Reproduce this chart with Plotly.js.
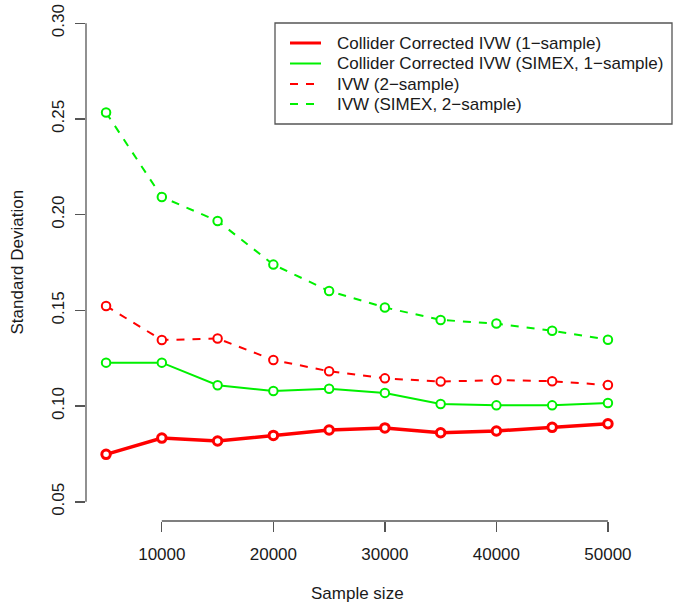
<!DOCTYPE html>
<html>
<head>
<meta charset="utf-8">
<script src="https://cdn.plot.ly/plotly-3.0.1.min.js"></script>
<style>html,body{margin:0;padding:0;background:#fff}#chart{width:682px;height:609px}</style>
</head>
<body>
<div id="chart"></div>
<script>
// ---- data ----
const sampleSize = [5000, 10000, 15000, 20000, 25000, 30000, 35000, 40000, 45000, 50000];
const ccIVW1 = [0.0748, 0.0833, 0.0818, 0.0847, 0.0875, 0.0886, 0.0861, 0.0870, 0.0889, 0.0908];
const ccIVWSimex1 = [0.1227, 0.1227, 0.1109, 0.1079, 0.1091, 0.1069, 0.1011, 0.1004, 0.1004, 0.1016];
const ivw2 = [0.1523, 0.1345, 0.1353, 0.1241, 0.1182, 0.1145, 0.1128, 0.1136, 0.1130, 0.1110];
const ivwSimex2 = [0.2533, 0.2092, 0.1967, 0.1739, 0.1601, 0.1515, 0.1450, 0.1431, 0.1394, 0.1347];
const seriesNames = [
  "Collider Corrected IVW (1\u2212sample)",
  "Collider Corrected IVW (SIMEX, 1\u2212sample)",
  "IVW (2\u2212sample)",
  "IVW (SIMEX, 2\u2212sample)"
];
const xTickVals = [10000, 20000, 30000, 40000, 50000];
const xTickText = ["10000", "20000", "30000", "40000", "50000"];
const yTickVals = [0.05, 0.10, 0.15, 0.20, 0.25, 0.30];
const yTickText = ["0.05", "0.10", "0.15", "0.20", "0.25", "0.30"];
const xTitle = "Sample size";
const yTitle = "Standard Deviation";

// ---- layout geometry ----
const W = 682, H = 609, ML = 86, MR = 54, MT = 4, MB = 88;
const PW = W - ML - MR, PH = H - MT - MB;
const px = v => (v - ML) / PW;
const py = v => 1 - (v - MT) / PH;

const RED = "#ff0000", GREEN = "#00f000";
const FONT = "Liberation Sans, Arial, sans-serif";
const FS = 17;
const TXT = "#1a1a1a";
const AX = "#555555";
const DASH = "8px,8px";

const styles = [
  {color: RED, width: 3.5, dash: "solid", mw: 3},
  {color: GREEN, width: 2, dash: "solid", mw: 2},
  {color: RED, width: 2, dash: DASH, mw: 2},
  {color: GREEN, width: 2, dash: DASH, mw: 2}
];
const seriesY = [ccIVW1, ccIVWSimex1, ivw2, ivwSimex2];

const traces = seriesY.map((ys, i) => ({
  type: "scatter", mode: "lines+markers", x: sampleSize, y: ys, name: seriesNames[i],
  line: {color: styles[i].color, width: styles[i].width, dash: styles[i].dash},
  marker: {symbol: "circle", size: 8.5, color: "#ffffff",
           line: {color: styles[i].color, width: styles[i].mw}},
  showlegend: false, cliponaxis: false
}));

const shapes = [
  {type: "line", xref: "x", yref: "paper", x0: xTickVals[0], x1: xTickVals[xTickVals.length-1], y0: 0, y1: 0,
   line: {color: AX, width: 1.3}},
  {type: "line", xref: "paper", yref: "y", x0: 0, x1: 0, y0: yTickVals[0], y1: yTickVals[yTickVals.length-1],
   line: {color: AX, width: 1.3}},
  // legend box
  {type: "rect", xref: "paper", yref: "paper", x0: px(275), x1: px(672), y0: py(124), y1: py(23),
   line: {color: AX, width: 1.3}, fillcolor: "rgba(0,0,0,0)"}
];
const annotations = [];
const legRows = [43, 63.5, 84, 104];
legRows.forEach((ry, i) => {
  shapes.push({type: "line", xref: "paper", yref: "paper", x0: px(290), x1: px(321), y0: py(ry), y1: py(ry),
    line: {color: styles[i].color, width: i === 0 ? 3 : 2, dash: i >= 2 ? DASH : "solid"}});
  annotations.push({xref: "paper", yref: "paper", x: px(335), y: py(ry), text: seriesNames[i],
    showarrow: false, xanchor: "left", yanchor: "middle", font: {family: FONT, size: FS, color: TXT}});
});
annotations.push({xref: "paper", yref: "paper", x: 0.5, y: py(593), text: xTitle, showarrow: false,
  xanchor: "center", yanchor: "middle", font: {family: FONT, size: FS, color: TXT}});
annotations.push({xref: "paper", yref: "paper", x: px(17), y: 0.5, text: yTitle, showarrow: false, textangle: -90,
  xanchor: "center", yanchor: "middle", font: {family: FONT, size: FS, color: TXT}});

const layout = {
  width: W, height: H, margin: {l: ML, r: MR, t: MT, b: MB, pad: 0},
  paper_bgcolor: "#ffffff", plot_bgcolor: "#ffffff",
  font: {family: FONT, size: FS, color: TXT},
  showlegend: false,
  xaxis: {range: [3200, 51800], showgrid: false, zeroline: false, showline: false,
    tickmode: "array", tickvals: xTickVals, ticktext: xTickText,
    ticks: "outside", ticklen: 10, tickwidth: 1.3, tickcolor: AX, ticklabelstandoff: 8,
    tickfont: {family: FONT, size: FS, color: TXT}, automargin: false},
  yaxis: {range: [0.04, 0.31], showgrid: false, zeroline: false, showline: false,
    tickmode: "array", tickvals: yTickVals, ticktext: yTickText, tickangle: -90,
    ticks: "outside", ticklen: 10, tickwidth: 1.3, tickcolor: AX, ticklabelstandoff: 4,
    tickfont: {family: FONT, size: FS, color: TXT}, automargin: false},
  shapes: shapes, annotations: annotations
};
Plotly.newPlot("chart", traces, layout, {displayModeBar: false, staticPlot: true});
</script>
</body>
</html>
